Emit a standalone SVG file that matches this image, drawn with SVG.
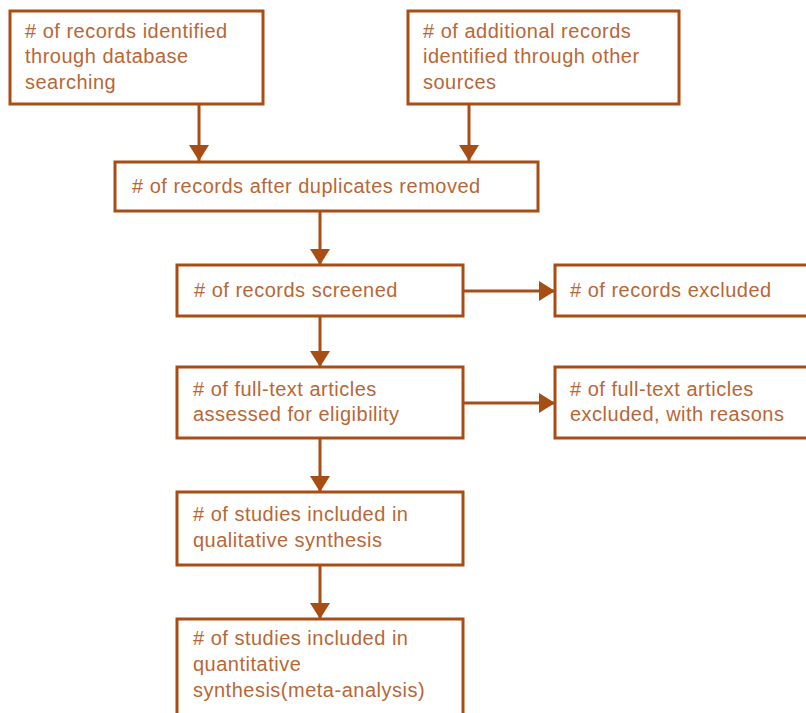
<svg xmlns="http://www.w3.org/2000/svg" width="806" height="713" viewBox="0 0 806 713">
<style>
.box{fill:#fff;stroke:#a84e14;stroke-width:3}
.t{font-family:"Liberation Sans",Arial,sans-serif;font-size:20px;letter-spacing:0.5px;fill:#b86737}
.c{stroke:#a84e14;stroke-width:3;fill:none}
</style>
<defs>
<marker id="ah" markerUnits="userSpaceOnUse" markerWidth="20" markerHeight="20" viewBox="0 0 16 20" refX="16" refY="10" orient="auto">
<path d="M0,0 L16,10 L0,20 Z" fill="#a84e14"/>
</marker>
</defs>
<rect width="806" height="713" fill="#fff"/>
<g id="connectors">
<line class="c" x1="199" y1="104" x2="199" y2="161" marker-end="url(#ah)"/>
<line class="c" x1="469" y1="104" x2="469" y2="161" marker-end="url(#ah)"/>
<line class="c" x1="320" y1="211" x2="320" y2="265" marker-end="url(#ah)"/>
<line class="c" x1="320" y1="316" x2="320" y2="367" marker-end="url(#ah)"/>
<line class="c" x1="320" y1="438" x2="320" y2="492" marker-end="url(#ah)"/>
<line class="c" x1="320" y1="565" x2="320" y2="619" marker-end="url(#ah)"/>
<line class="c" x1="463" y1="291" x2="555" y2="291" marker-end="url(#ah)"/>
<line class="c" x1="463" y1="403" x2="555" y2="403" marker-end="url(#ah)"/>
</g>
<g id="n1">
<rect class="box" x="10" y="11" width="253" height="93"/>
<text class="t">
<tspan x="25" y="38"># of records identified</tspan>
<tspan x="25" y="63">through database</tspan>
<tspan x="25" y="89">searching</tspan>
</text>
</g>
<g id="n2">
<rect class="box" x="408" y="11" width="271" height="93"/>
<text class="t">
<tspan x="423" y="38"># of additional records</tspan>
<tspan x="423" y="63">identified through other</tspan>
<tspan x="423" y="89">sources</tspan>
</text>
</g>
<g id="n3">
<rect class="box" x="115" y="162" width="423" height="49"/>
<text class="t" x="132" y="193"># of records after duplicates removed</text>
</g>
<g id="n4">
<rect class="box" x="177" y="265" width="286" height="51"/>
<text class="t" x="194" y="297"># of records screened</text>
</g>
<g id="n5">
<rect class="box" x="555" y="265" width="260" height="51"/>
<text class="t" x="570" y="297"># of records excluded</text>
</g>
<g id="n6">
<rect class="box" x="177" y="367" width="286" height="71"/>
<text class="t">
<tspan x="193" y="396"># of full-text articles</tspan>
<tspan x="193" y="421">assessed for eligibility</tspan>
</text>
</g>
<g id="n7">
<rect class="box" x="555" y="367" width="260" height="71"/>
<text class="t">
<tspan x="570" y="396"># of full-text articles</tspan>
<tspan x="570" y="421">excluded, with reasons</tspan>
</text>
</g>
<g id="n8">
<rect class="box" x="177" y="492" width="286" height="73"/>
<text class="t">
<tspan x="193" y="521"># of studies included in</tspan>
<tspan x="193" y="547">qualitative synthesis</tspan>
</text>
</g>
<g id="n9">
<rect class="box" x="177" y="619" width="286" height="110"/>
<text class="t">
<tspan x="193" y="645"># of studies included in</tspan>
<tspan x="193" y="671">quantitative</tspan>
<tspan x="193" y="697">synthesis(meta-analysis)</tspan>
</text>
</g>
</svg>
